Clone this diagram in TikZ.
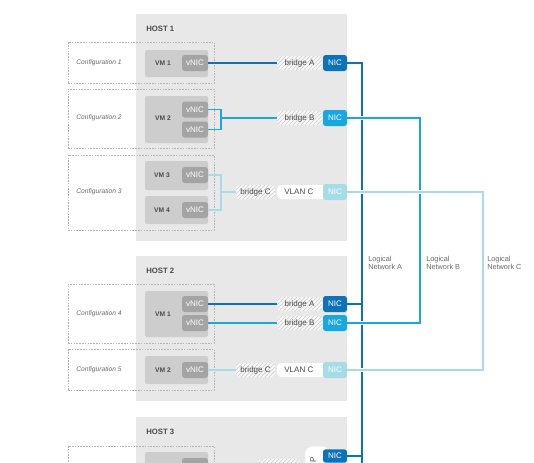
\documentclass[tikz,border=0pt]{standalone}
\usepackage{fontspec}
\setmainfont{Liberation Sans}
\usetikzlibrary{positioning, fit, calc, patterns}

\definecolor{hostgray}{HTML}{E8E8E8}
\definecolor{vmgray}{HTML}{CDCDCD}
\definecolor{vnicgray}{HTML}{A4A4A4}
\definecolor{confline}{HTML}{B4B4B4}
\definecolor{textgray}{HTML}{4A4A4A}
\definecolor{labelgray}{HTML}{6A6A6A}
\definecolor{netA}{HTML}{0E72B8}
\definecolor{netB}{HTML}{18A8DF}
\definecolor{netC}{HTML}{A6DCE8}

\tikzset{
  hostbox/.style={fill=hostgray, inner sep=0pt},
  hostlabel/.style={anchor=west, inner sep=0pt, text=textgray, font=\fontsize{5.8}{6}\selectfont\bfseries},
  confbox/.style={draw=confline, dash pattern=on 1.2pt off 0.9pt, line width=0.4pt, inner sep=0pt},
  conflabel/.style={text=labelgray, font=\fontsize{5}{6}\selectfont\itshape},
  vmbox/.style={fill=vmgray, rounded corners=1.5pt, inner sep=0pt},
  vmlabel/.style={text=textgray, font=\fontsize{5}{6}\selectfont\bfseries},
  vnicbox/.style={fill=vnicgray, rounded corners=2pt, inner sep=0pt, minimum width=19.5pt, minimum height=12pt, text=white, font=\fontsize{6}{7}\selectfont},
  bridgebox/.style={preaction={fill=white!70!hostgray}, pattern=north east lines, pattern color=gray!40, rounded corners=3pt, inner sep=0pt, minimum width=33.75pt, minimum height=10.5pt, text=textgray, font=\fontsize{6}{7}\selectfont},
  vlanbox/.style={fill=white, rounded corners=3pt, inner sep=0pt, minimum width=36.75pt, minimum height=10.5pt, text=textgray, font=\fontsize{6}{7}\selectfont},
  nicbox/.style={rounded corners=2pt, inner sep=0pt, minimum width=18pt, minimum height=12pt, text=white, font=\fontsize{6}{7}\selectfont},
  wire/.style={line width=1.2pt},
  halo/.style={preaction={draw=white, line width=3.4pt}},
  netlabel/.style={anchor=north west, align=left, inner sep=0pt, text=labelgray, font=\fontsize{5.5}{6.3}\selectfont},
}

\begin{document}
\begin{tikzpicture}[x=0.75pt, y=-0.75pt]
  \useasboundingbox (0,0) rectangle (534,462);
  \clip (0,0) rectangle (534,462);
  \fill[white] (0,0) rectangle (534,462);

  % Host boxes
  \node[hostbox, fit={(136,14) (347,241)}] (host1) {};
  \node[hostbox, fit={(136,256) (347,401)}] (host2) {};
  \node[hostbox, fit={(136,417) (347,480)}] (host3) {};
  \node[hostlabel] (h1lbl) at (146,29) {HOST 1};
  \node[hostlabel] (h2lbl) at (146,271) {HOST 2};
  \node[hostlabel] (h3lbl) at (146,432) {HOST 3};

  % Configurations
  \node[confbox, fit={(68,42) (214,83)}] (conf1) {};
  \node[confbox, fit={(68,89) (214,148)}] (conf2) {};
  \node[confbox, fit={(68,155) (214,230)}] (conf3) {};
  \node[confbox, fit={(68,284) (214,343)}] (conf4) {};
  \node[confbox, fit={(68,349) (214,390)}] (conf5) {};
  \node[confbox, fit={(68,446) (214,490)}] (conf6) {};
  \node[conflabel] (c1lbl) at (99,63) {Configuration 1};
  \node[conflabel] (c2lbl) at (99,118) {Configuration 2};
  \node[conflabel] (c3lbl) at (99,192) {Configuration 3};
  \node[conflabel] (c4lbl) at (99,314) {Configuration 4};
  \node[conflabel] (c5lbl) at (99,370) {Configuration 5};

  % VMs, host 1
  \node[vmbox, fit={(145,50) (208,77)}] (vm11) {};
  \node[vmbox, fit={(145,96) (208,143)}] (vm12) {};
  \node[vmbox, fit={(145,161) (208,190)}] (vm13) {};
  \node[vmbox, fit={(145,196) (208,224)}] (vm14) {};
  \node[vmlabel] at (163,63) {VM 1};
  \node[vmlabel] at (163,118) {VM 2};
  \node[vmlabel] at (162,175) {VM 3};
  \node[vmlabel] at (162,210) {VM 4};
  \node[vnicbox] (v11) at (195,63) {vNIC};
  \node[vnicbox] (v12a) at (195,109.5) {vNIC};
  \node[vnicbox] (v12b) at (195,129.5) {vNIC};
  \node[vnicbox] (v13) at (195,175) {vNIC};
  \node[vnicbox] (v14) at (195,210) {vNIC};

  % VMs, host 2 and 3
  \node[vmbox, fit={(145,291) (208,337)}] (vm21) {};
  \node[vmbox, fit={(145,356) (208,384)}] (vm22) {};
  \node[vmbox, fit={(145,452) (208,480)}] (vm31) {};
  \node[vmlabel] at (163,314) {VM 1};
  \node[vmlabel] at (163,370) {VM 2};
  \node[vnicbox] (v21a) at (195,304) {vNIC};
  \node[vnicbox] (v21b) at (195,323) {vNIC};
  \node[vnicbox] (v22) at (195,370) {vNIC};
  \node[vnicbox, minimum height=16.5pt] (v31) at (195,469) {};

  % Bridges, VLANs, NICs
  \node[bridgebox] (bra1) at (299.5,63) {bridge A};
  \node[bridgebox] (brb1) at (299.5,118) {bridge B};
  \node[bridgebox, minimum width=29.25pt] (brc1) at (255.5,192) {bridge C};
  \node[vlanbox] (vlc1) at (301.5,192) {\hspace*{-4pt}VLAN C};
  \node[nicbox, fill=netA] (nica1) at (335,63) {NIC};
  \node[nicbox, fill=netB] (nicb1) at (335,118) {NIC};
  \node[nicbox, fill=netC] (nicc1) at (335,192) {NIC};

  \node[bridgebox] (bra2) at (299.5,304) {bridge A};
  \node[bridgebox] (brb2) at (299.5,323) {bridge B};
  \node[bridgebox, minimum width=29.25pt] (brc2) at (255.5,370) {bridge C};
  \node[vlanbox] (vlc2) at (301.5,370) {\hspace*{-4pt}VLAN C};
  \node[nicbox, fill=netA] (nica2) at (335,304) {NIC};
  \node[nicbox, fill=netB] (nicb2) at (335,323) {NIC};
  \node[nicbox, fill=netC] (nicc2) at (335,370) {NIC};

  \node[bridgebox, minimum width=31.5pt, minimum height=15pt] (br3) at (279,469) {};
  \node[vlanbox, rounded corners=6pt, minimum width=18.75pt, minimum height=25pt] (vl3) at (317.5,463) {};
  \node[text=textgray, rotate=90, font=\fontsize{6}{7}\selectfont] at (313,460) {P};
  \node[nicbox, fill=netA, minimum height=10pt] (nica3) at (335,456) {NIC};

  % wires inside hosts
  \draw[wire, netA] (v11) -- (bra1);
  \coordinate (brk12) at (221,118);
  \draw[wire, netB] (v12a.east) -| (brk12) |- (v12b.east);
  \draw[wire, netB] (brk12) -- (brb1);
  \coordinate (brk13) at (221,192);
  \draw[wire, netC, line width=1pt] (v13.east) -| (brk13) |- (v14.east);
  \draw[wire, netC, line width=1pt] (brk13) -- (brc1);
  \draw[wire, netA] (v21a) -- (bra2);
  \draw[wire, netB] (v21b) -- (brb2);
  \draw[wire, netC, line width=1pt] (v22) -- (brc2);

  % logical networks
  \coordinate (busA) at (362,470);
  \coordinate (busB) at (420,250);
  \coordinate (busC) at (483,300);
  \draw[wire, netA] (nica1.east) -| (busA);
  \draw[wire, netA] (nica2.east) -- (nica2.east -| busA);
  \draw[wire, netA] (nica3.east) -- (nica3.east -| busA);
  \draw[wire, netB, halo] (nicb1.east) -| (busB) |- (nicb2.east);
  \draw[wire, netC, halo] (nicc1.east) -| (busC) |- (nicc2.east);

  \node[netlabel] (lnA) at (368,256) {Logical\\Network A};
  \node[netlabel] (lnB) at (426,256) {Logical\\Network B};
  \node[netlabel] (lnC) at (487,256) {Logical\\Network C};
\end{tikzpicture}
\end{document}
